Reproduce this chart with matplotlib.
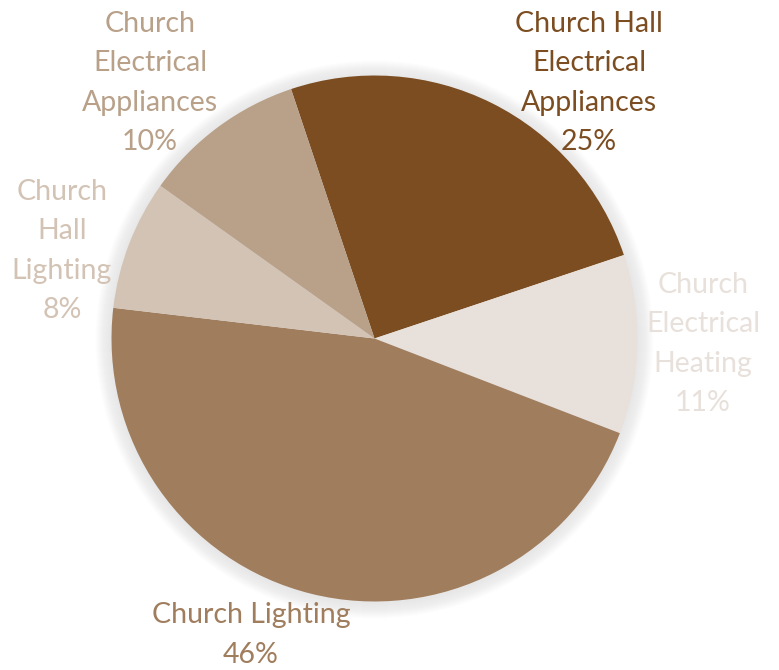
import numpy as np
import matplotlib.pyplot as plt
from matplotlib.patches import Circle

# Energy use breakdown
categories = ['Church Hall\nElectrical\nAppliances', 'Church\nElectrical\nHeating',
              'Church Lighting', 'Church\nHall\nLighting', 'Church\nElectrical\nAppliances']
shares = [25, 11, 46, 8, 10]
colors = ['#7B4D21', '#E8E0DA', '#A07D5D', '#D3C3B5', '#B8A089']

# label anchor points (pixels from top-left)
label_pos = [(589, 83), (703, 344), (251, 635), (62, 251), (150, 83)]

W, H = 779, 670
fig = plt.figure(figsize=(W / 100, H / 100), dpi=100)
ax = fig.add_axes([0, 0, 1, 1])

cx, cy, r = 374.5, H - 338.5, 263

# soft shadow around the pie
for k in range(16):
    ax.add_patch(Circle((cx, cy - 1), r + 16 - k, color='#9a9a9a',
                        alpha=0.012, lw=0, zorder=0))

ax.pie(shares, colors=colors, startangle=108.5, counterclock=False,
       center=(cx, cy), radius=r, frame=True,
       wedgeprops=dict(linewidth=0, antialiased=True))
ax.set_xlim(0, W)
ax.set_ylim(0, H)
ax.set_aspect('equal')
ax.axis('off')

for name, val, col, (px, py) in zip(categories, shares, colors, label_pos):
    ax.text(px, H - py, f'{name}\n{val}%', color=col, fontsize=20.5,
            family='Lato', ha='center', va='center', linespacing=1.62)

fig.savefig('out.png', dpi=100)
